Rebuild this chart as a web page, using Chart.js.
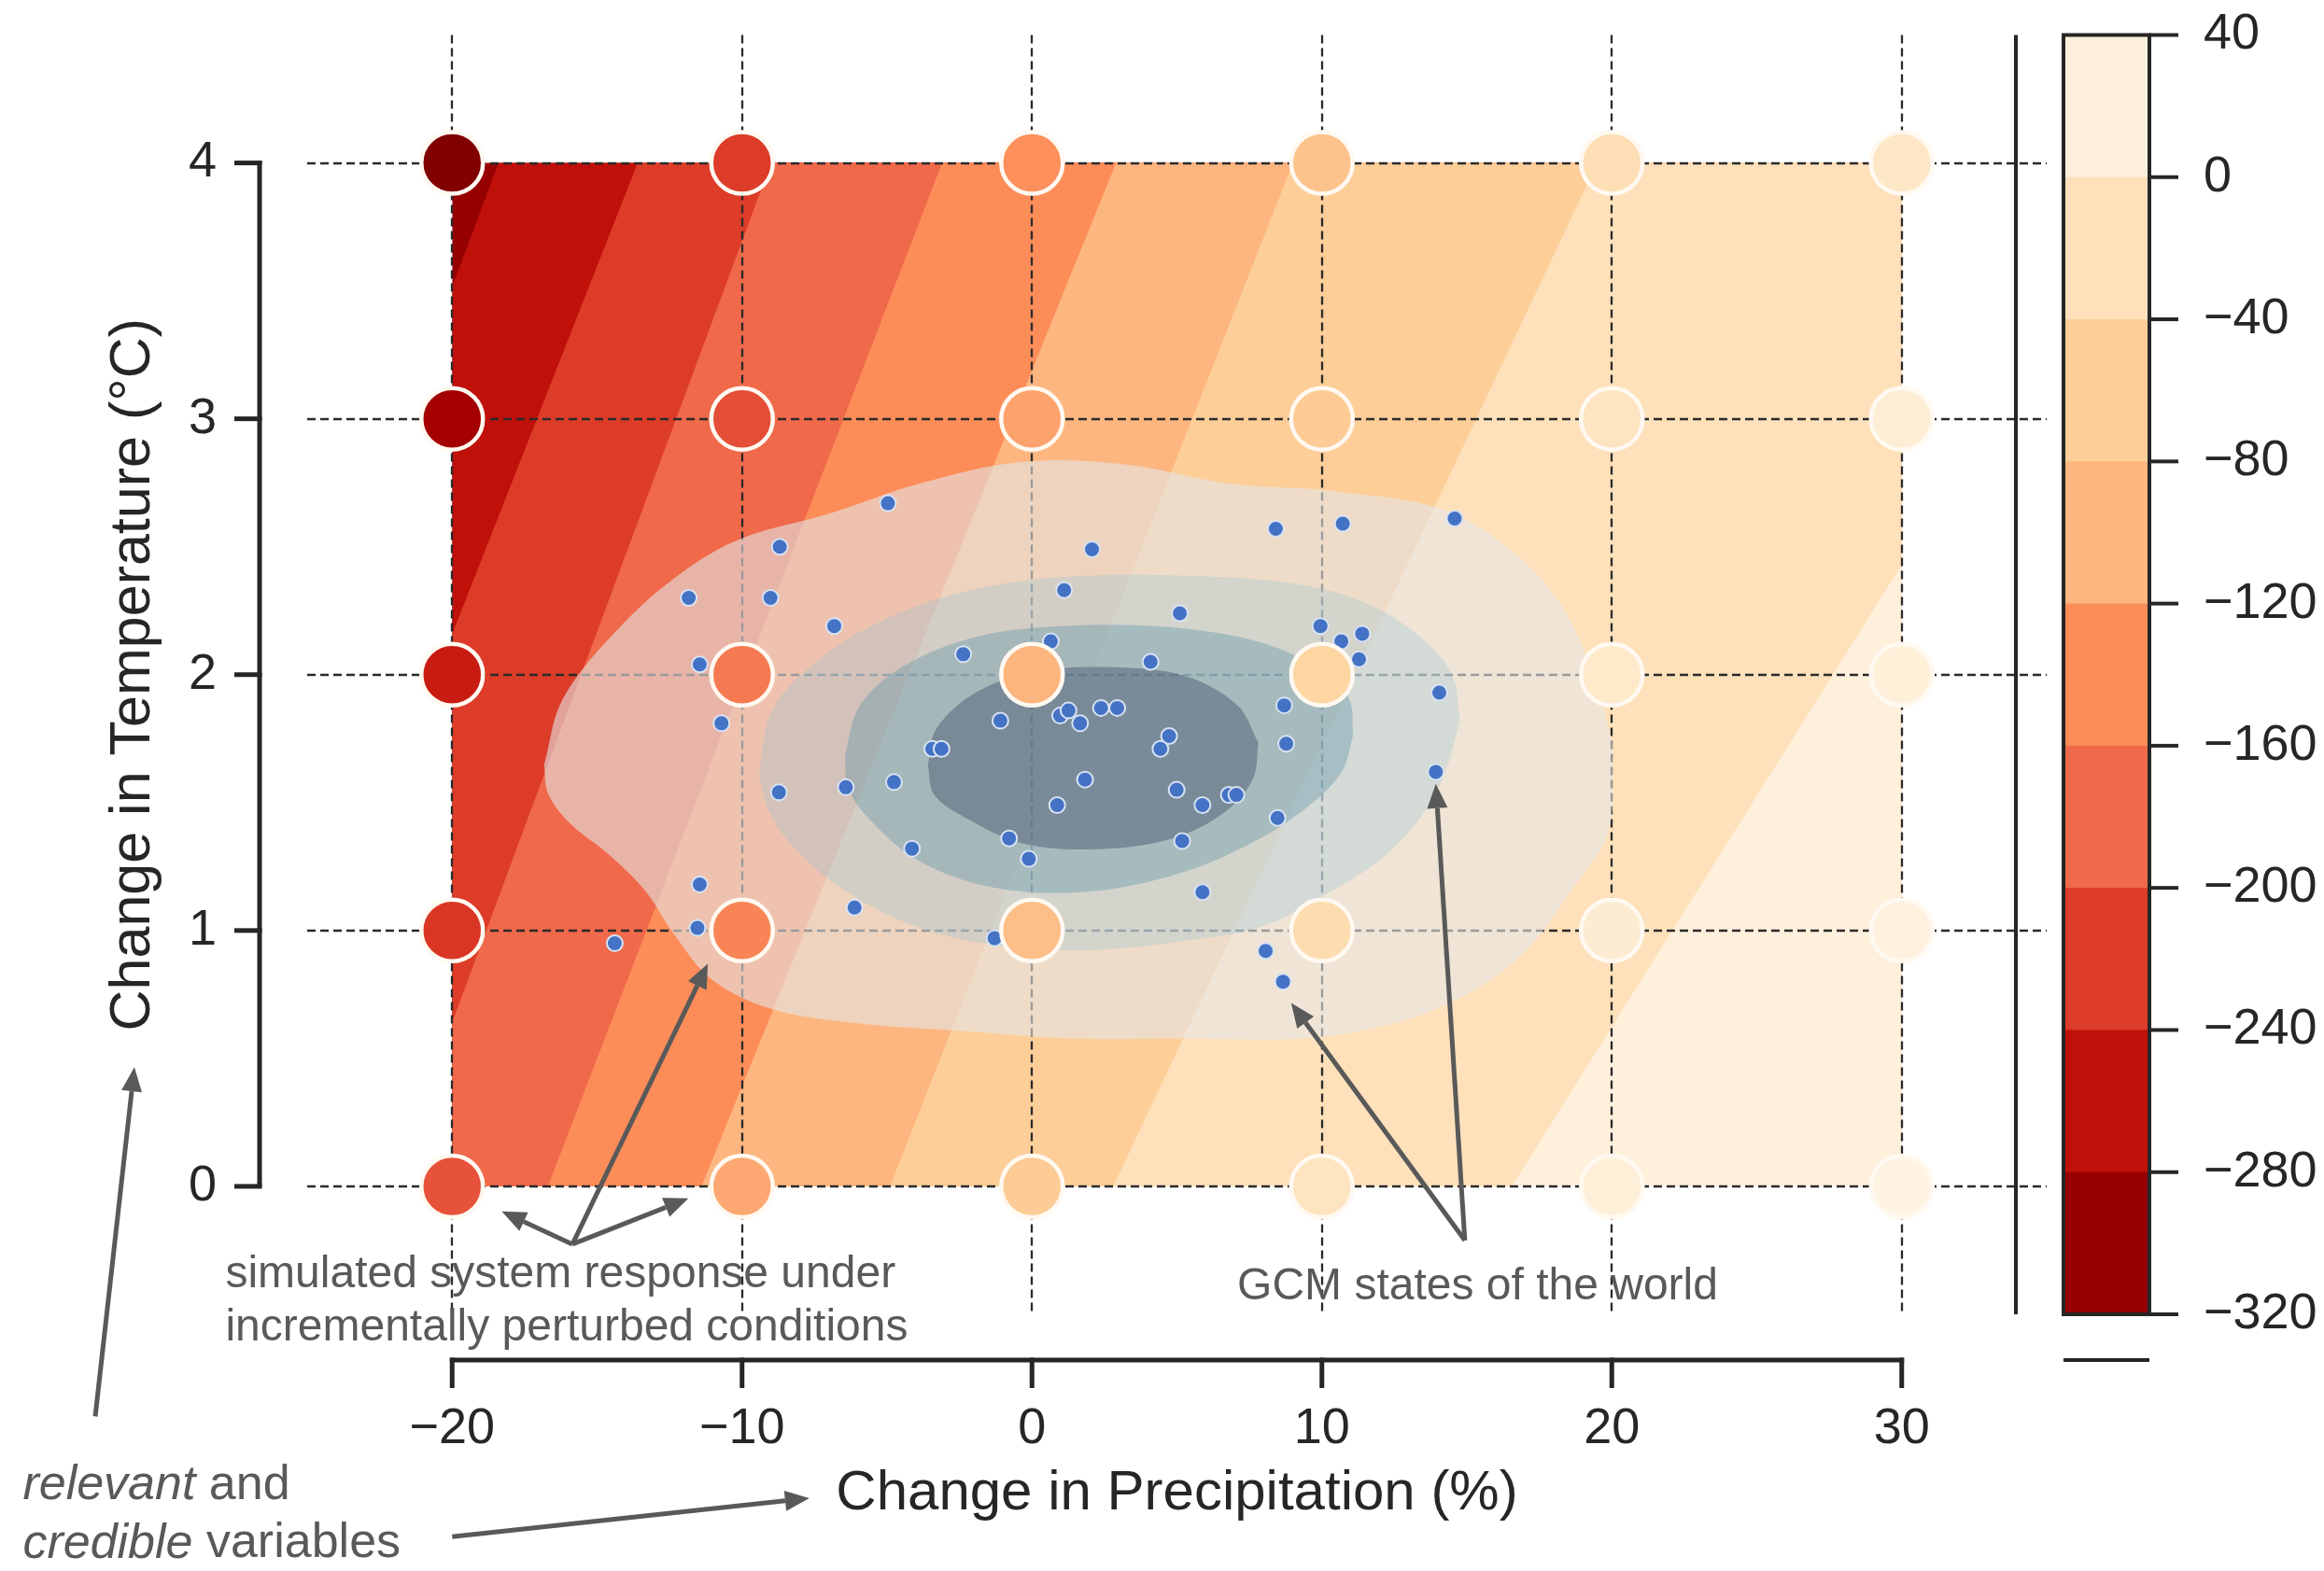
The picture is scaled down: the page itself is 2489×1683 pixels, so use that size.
<!DOCTYPE html>
<html>
<head>
<meta charset="utf-8">
<script src="https://cdn.jsdelivr.net/npm/chart.js@4.4.1/dist/chart.umd.min.js"></script>
<style>
html,body{margin:0;padding:0;background:#ffffff;}
#wrap{width:2489px;height:1683px;position:relative;}
</style>
</head>
<body>
<div id="wrap"><canvas id="c"></canvas></div>
<script>
// ---------------- data ----------------
const precipTicks = [-20, -10, 0, 10, 20, 30];
const tempTicks = [0, 1, 2, 3, 4];
const colorbarTicks = [40, 0, -40, -80, -120, -160, -200, -240, -280, -320];

// filled-contour boundaries of the response surface (level, precip at T=0, precip at T=4)
const contourLevels = [-280, -240, -200, -160, -120, -80, -40, 0];
const boundaryAtT0 = [-31.6, -27.5, -22.1, -16.7, -11.4, -4.9, 2.8, 16.55];
const boundaryAtT4 = [-18.4, -13.6, -9.0, -3.1, 2.9, 9.0, 19.5, 38.7];

// simulated system response (stress test grid)
const responseX = [-20, -10, 0, 10, 20, 30];
const responseY = [0, 1, 2, 3, 4];
const responseImpact = [
  [-200, -114, -66, -14, 15, 30],
  [-225, -149, -90, -32, 8, 22],
  [-249, -161, -101, -46, -3, 18],
  [-287, -205, -119, -66, -14, 11],
  [-318, -220, -138, -80, -25, -7]
];

// GCM states of the world
const gcmPrecip = [-4.97, -8.70, -11.84, -9.02, -6.82, -11.46, -10.71, -2.37, -3.44, -3.12, -8.73, -6.42, -4.76, -4.14,
  -11.46, -6.12, -11.54, -14.39, 2.07, 8.41, 10.72, 14.58, 1.11, 5.10, 9.95, 10.67, 11.39, 11.28, 0.65, 4.09, 14.05,
  -1.09, 0.97, 1.26, 1.66, 2.38, 2.94, 8.70, 4.73, 4.43, 8.77, 13.93, 1.83, 4.99, 6.79, 7.05, 5.88, 0.87, 8.47,
  -0.79, -0.11, 5.18, 5.88, -1.29, 8.06, 8.66];
const gcmTemp = [2.67, 2.50, 2.30, 2.30, 2.19, 2.04, 1.81, 2.08, 1.71, 1.71, 1.54, 1.56, 1.58, 1.32,
  1.18, 1.09, 1.01, 0.95, 2.49, 2.57, 2.59, 2.61, 2.33, 2.24, 2.19, 2.13, 2.16, 2.06, 2.13, 2.05, 1.93,
  1.82, 1.84, 1.86, 1.81, 1.87, 1.87, 1.88, 1.76, 1.71, 1.73, 1.62, 1.59, 1.55, 1.53, 1.53, 1.49, 1.49, 1.44,
  1.36, 1.28, 1.35, 1.15, 0.97, 0.92, 0.80];

// KDE density contours of the GCM states (upper / lower outlines, left to right)
const kde1Upper = [[-16.83,1.647],[-16.17,1.908],[-14.12,2.197],[-12.08,2.399],[-10.03,2.532],[-6.96,2.63],[-3.9,2.746],[-0.32,2.832],[3.26,2.821],[6.84,2.746],[10.42,2.717],[14.51,2.63],[17.58,2.37],[19.11,2.08],[20.03,1.734]];
const kde1Lower = [[-16.83,1.647],[-16.68,1.532],[-15.91,1.416],[-14.63,1.3],[-13.35,1.156],[-12.33,0.983],[-11.05,0.809],[-9.0,0.694],[-5.94,0.636],[-2.36,0.607],[1.22,0.578],[5.31,0.578],[9.4,0.578],[12.46,0.636],[15.02,0.751],[17.07,0.925],[18.6,1.156],[19.88,1.387],[20.03,1.734]];
const kde2Upper = [[-9.42,1.607],[-9.01,1.85],[-7.73,2.023],[-5.43,2.197],[-2.36,2.324],[1.22,2.382],[5.31,2.387],[8.89,2.358],[11.44,2.283],[13.49,2.139],[14.51,1.994],[14.76,1.821]];
const kde2Lower = [[-9.42,1.607],[-9.11,1.474],[-8.24,1.329],[-6.45,1.156],[-3.9,1.012],[-0.83,0.936],[2.24,0.925],[5.31,0.96],[7.97,1.017],[9.91,1.127],[11.95,1.272],[13.38,1.439],[14.25,1.618],[14.76,1.821]];
const kde3Upper = [[-6.45,1.688],[-5.94,1.879],[-4.41,2.035],[-1.85,2.15],[1.22,2.191],[4.8,2.185],[7.86,2.127],[9.91,2.023],[10.93,1.908],[11.08,1.763]];
const kde3Lower = [[-6.45,1.688],[-6.35,1.561],[-5.69,1.445],[-3.9,1.272],[-1.34,1.168],[1.73,1.15],[4.8,1.214],[7.35,1.329],[9.4,1.474],[10.67,1.618],[11.08,1.763]];
const kde4Upper = [[-3.59,1.647],[-3.28,1.792],[-1.85,1.936],[0.19,2.012],[2.75,2.029],[5.31,1.994],[7.1,1.879],[7.81,1.734]];
const kde4Lower = [[-3.59,1.647],[-3.38,1.532],[-2.36,1.445],[-0.32,1.341],[2.24,1.318],[4.8,1.358],[6.58,1.457],[7.61,1.59],[7.81,1.734]];
const kdeFills = ['rgba(228,230,232,0.6)', 'rgba(150,195,215,0.30)', 'rgba(100,150,170,0.40)', 'rgba(60,75,100,0.42)'];

// annotations (data coordinates)
const responseNote = ['simulated system response under', 'incrementally perturbed conditions'];
const responseNoteAt = [[-27.82, -0.346], [-27.82, -0.553]];
const responseArrowFrom = [-15.85, -0.226];
const responseArrowTo = [[-18.29, -0.098], [-11.85, -0.047], [-11.18, 0.87]];
const gcmNote = 'GCM states of the world';
const gcmNoteAt = [7.08, -0.393];
const gcmArrowFrom = [14.93, -0.211];
const gcmArrowTo = [[8.94, 0.717], [13.93, 1.573]];
const variablesNoteAt = [[-34.81, -1.169], [-34.81, -1.398]];
const variablesArrows = [[[-32.31, -0.899], [-30.96, 0.466]], [[-20.0, -1.369], [-7.68, -1.219]]];

// ---------------- helpers ----------------
const FONT = "'Liberation Sans', Arial, Helvetica, sans-serif";
const INK = '#262626';
const NOTE = '#595959';
const CB_MAX = colorbarTicks[0], CB_MIN = colorbarTicks[colorbarTicks.length - 1];
const ORRD = ['#fff7ec','#fee8c8','#fdd49e','#fdbb84','#fc8d59','#ef6548','#d7301f','#b30000','#7f0000'];
function hex2rgb(h){ return [parseInt(h.slice(1,3),16), parseInt(h.slice(3,5),16), parseInt(h.slice(5,7),16)]; }
function cmap(v){
  let s = (CB_MAX - v) / (CB_MAX - CB_MIN);
  s = Math.max(0, Math.min(1, s));
  const p = s * (ORRD.length - 1);
  const i = Math.min(Math.floor(p), ORRD.length - 2);
  const f = p - i;
  const a = hex2rgb(ORRD[i]), b = hex2rgb(ORRD[i + 1]);
  return 'rgb(' + a.map((c, k) => Math.round(c + (b[k] - c) * f)).join(',') + ')';
}
const fmt = v => (v < 0 ? '\u2212' + Math.abs(v) : String(v));
const toXY = arr => arr.map(p => ({x: p[0], y: p[1]}));
const fixBox = (w, h) => s => {
  if (w !== null) s.width = w;
  if (h !== null) s.height = h;
  s.paddingTop = 0; s.paddingBottom = 0; s.paddingLeft = 0; s.paddingRight = 0;
};

// ---------------- datasets ----------------
const datasets = [];
const RX0 = precipTicks[0], RX1 = precipTicks[precipTicks.length - 1];
const RY0 = tempTicks[0], RY1 = tempTicks[tempTicks.length - 1];
const hidden = {type: 'line', borderWidth: 0, borderColor: 'transparent', pointRadius: 0, tension: 0};

// base band (below lowest level)
datasets.push(Object.assign({}, hidden, {
  data: [{x: RX0, y: RY1}, {x: RX1, y: RY1}],
  backgroundColor: cmap((CB_MIN + contourLevels[0]) / 2), fill: 'origin', order: 1000
}));
contourLevels.forEach((L, i) => {
  const x0 = boundaryAtT0[i], x4 = boundaryAtT4[i];
  const yAt = x => Math.max(RY0, Math.min(RY1, RY0 + (RY1 - RY0) * (x - x0) / (x4 - x0)));
  const xs = [RX0, x0, x4, RX1].filter(x => x >= RX0 && x <= RX1).sort((a, b) => a - b);
  datasets.push(Object.assign({}, hidden, {
    data: xs.map(x => ({x: x, y: yAt(x)})),
    backgroundColor: cmap(L + 20), fill: 'origin', order: 999 - i,
    isLastBand: i === contourLevels.length - 1
  }));
});

// KDE contours
[[kde1Upper, kde1Lower], [kde2Upper, kde2Lower], [kde3Upper, kde3Lower], [kde4Upper, kde4Lower]].forEach((pair, k) => {
  const upperIndex = datasets.length;
  datasets.push(Object.assign({}, hidden, {
    data: toXY(pair[0]), fill: upperIndex + 1, backgroundColor: kdeFills[k], tension: 0.35, order: 500 - 2 * k
  }));
  datasets.push(Object.assign({}, hidden, {
    data: toXY(pair[1]), fill: false, tension: 0.35, order: 499 - 2 * k
  }));
});

// GCM points
datasets.push({
  type: 'scatter',
  data: gcmPrecip.map((x, i) => ({x: x, y: gcmTemp[i]})),
  pointRadius: 8.5, backgroundColor: '#4472C4', borderColor: '#D8E2F3', borderWidth: 2,
  order: 20, clip: false
});

// stress-test response circles
const respPts = [], respCols = [];
responseY.forEach((t, r) => responseX.forEach((p, c) => {
  respPts.push({x: p, y: t});
  respCols.push(cmap(responseImpact[r][c]));
}));
datasets.push({
  type: 'scatter', data: respPts, pointRadius: 33, backgroundColor: respCols,
  borderColor: '#FFF9F1', borderWidth: 4.5, order: 10, clip: false
});

// ---------------- decorations plugin ----------------
function drawArrow(ctx, x1, y1, x2, y2){
  const ang = Math.atan2(y2 - y1, x2 - x1);
  const hl = 26, hw = 22;
  const bx = x2 - hl * Math.cos(ang), by = y2 - hl * Math.sin(ang);
  ctx.strokeStyle = NOTE; ctx.fillStyle = NOTE; ctx.lineWidth = 5; ctx.lineCap = 'butt';
  ctx.beginPath(); ctx.moveTo(x1, y1); ctx.lineTo(bx, by); ctx.stroke();
  ctx.beginPath(); ctx.moveTo(x2, y2);
  ctx.lineTo(bx + hw / 2 * Math.sin(ang), by - hw / 2 * Math.cos(ang));
  ctx.lineTo(bx - hw / 2 * Math.sin(ang), by + hw / 2 * Math.cos(ang));
  ctx.closePath(); ctx.fill();
}

const decor = {
  id: 'decor',
  afterDatasetDraw(chart, args){
    const ds = chart.data.datasets[args.index];
    if (!ds.isLastBand) return;
    const {ctx, chartArea: a, scales: {x, y}} = chart;
    ctx.save();
    ctx.strokeStyle = '#2a2a2a'; ctx.lineWidth = 2.3; ctx.setLineDash([9, 5]);
    precipTicks.forEach(v => {
      const p = Math.round(x.getPixelForValue(v));
      ctx.beginPath(); ctx.moveTo(p, a.top); ctx.lineTo(p, a.bottom); ctx.stroke();
    });
    tempTicks.forEach(v => {
      const p = Math.round(y.getPixelForValue(v));
      ctx.beginPath(); ctx.moveTo(a.left, p); ctx.lineTo(a.right, p); ctx.stroke();
    });
    ctx.restore();
  },
  afterDraw(chart){
    const {ctx, chartArea: a, scales: {x, y, cb}} = chart;
    const P = pt => [x.getPixelForValue(pt[0]), y.getPixelForValue(pt[1])];
    ctx.save();
    // offset spines
    ctx.strokeStyle = INK; ctx.lineWidth = 5; ctx.lineCap = 'butt'; ctx.setLineDash([]);
    const sx = a.left - 51;
    ctx.beginPath();
    ctx.moveTo(sx, y.getPixelForValue(RY0)); ctx.lineTo(sx, y.getPixelForValue(RY1) - 2.5); ctx.stroke();
    tempTicks.forEach(v => { const p = y.getPixelForValue(v); ctx.beginPath(); ctx.moveTo(sx - 27, p); ctx.lineTo(sx + 2.5, p); ctx.stroke(); });
    const sy = a.bottom + 49;
    ctx.beginPath(); ctx.moveTo(x.getPixelForValue(RX0) - 2.5, sy); ctx.lineTo(x.getPixelForValue(RX1) + 2.5, sy); ctx.stroke();
    precipTicks.forEach(v => { const p = x.getPixelForValue(v); ctx.beginPath(); ctx.moveTo(p, sy - 2.5); ctx.lineTo(p, sy + 30); ctx.stroke(); });

    // colorbar
    const cx0 = a.right + 18, cx1 = a.right + 110;
    for (let i = 0; i < colorbarTicks.length - 1; i++) {
      const v0 = colorbarTicks[i], v1 = colorbarTicks[i + 1];
      const p0 = cb.getPixelForValue(v0), p1 = cb.getPixelForValue(v1);
      ctx.fillStyle = cmap((v0 + v1) / 2);
      ctx.fillRect(cx0, p0, cx1 - cx0, p1 - p0 + 0.6);
    }
    ctx.lineWidth = 4; ctx.strokeStyle = INK;
    const ct = cb.getPixelForValue(CB_MAX), cbt = cb.getPixelForValue(CB_MIN);
    ctx.strokeRect(cx0, ct, cx1 - cx0, cbt - ct);
    colorbarTicks.forEach(v => { const p = cb.getPixelForValue(v); ctx.beginPath(); ctx.moveTo(cx1, p); ctx.lineTo(cx1 + 31, p); ctx.stroke(); });
    // colorbar axes spines
    ctx.beginPath(); ctx.moveTo(a.right - 33, ct); ctx.lineTo(a.right - 33, cbt); ctx.stroke();
    ctx.beginPath(); ctx.moveTo(cx0, sy); ctx.lineTo(cx1, sy); ctx.stroke();

    // annotations
    ctx.textBaseline = 'middle'; ctx.textAlign = 'left'; ctx.fillStyle = NOTE;
    ctx.font = '48px ' + FONT;
    responseNote.forEach((t, i) => { const p = P(responseNoteAt[i]); ctx.fillText(t, p[0], p[1]); });
    const gp = P(gcmNoteAt); ctx.fillText(gcmNote, gp[0], gp[1]);
    [[['relevant', true], [' and', false]], [['credible', true], [' variables', false]]].forEach((parts, i) => {
      const p = P(variablesNoteAt[i]); let cx = p[0];
      parts.forEach(([txt, it]) => {
        ctx.font = (it ? 'italic ' : '') + '52px ' + FONT;
        ctx.fillText(txt, cx, p[1]);
        cx += ctx.measureText(txt).width;
      });
    });
    const rf = P(responseArrowFrom);
    responseArrowTo.forEach(t => { const q = P(t); drawArrow(ctx, rf[0], rf[1], q[0], q[1]); });
    const gf = P(gcmArrowFrom);
    gcmArrowTo.forEach(t => { const q = P(t); drawArrow(ctx, gf[0], gf[1], q[0], q[1]); });
    variablesArrows.forEach(([f, t]) => { const a1 = P(f), b1 = P(t); drawArrow(ctx, a1[0], a1[1], b1[0], b1[1]); });
    ctx.restore();
  }
};

// ---------------- chart ----------------
Chart.defaults.font.family = FONT;
Chart.defaults.color = INK;

new Chart(document.getElementById('c'), {
  type: 'scatter',
  data: {datasets: datasets},
  options: {
    responsive: true, maintainAspectRatio: false, devicePixelRatio: 1,
    animation: false, events: [],
    layout: {padding: {left: 0, right: 0, top: 35, bottom: 0}},
    plugins: {legend: {display: false}, tooltip: {enabled: false}, filler: {propagate: false}},
    scales: {
      x: {
        type: 'linear', position: 'bottom', min: -25, max: 35,
        afterFit: fixBox(null, 275),
        afterBuildTicks: s => { s.ticks = precipTicks.map(v => ({value: v})); },
        grid: {display: false}, border: {display: false},
        ticks: {padding: 83, font: {size: 54}, color: INK, autoSkip: false, maxRotation: 0, callback: v => fmt(v)},
        title: {display: true, text: 'Change in Precipitation (%)', font: {size: 60}, color: INK, padding: {top: 0, bottom: 47}}
      },
      y: {
        type: 'linear', position: 'left', min: -0.5, max: 4.5,
        afterFit: fixBox(329, null),
        afterBuildTicks: s => { s.ticks = tempTicks.map(v => ({value: v})); },
        grid: {display: false}, border: {display: false},
        ticks: {padding: 89, font: {size: 54}, color: INK, autoSkip: false, callback: v => fmt(v)},
        title: {display: true, text: 'Change in Temperature (°C)', font: {size: 61}, color: INK, padding: {top: 107, bottom: 0}}
      },
      cb: {
        type: 'linear', position: 'right', min: CB_MIN, max: CB_MAX,
        afterFit: fixBox(297, null),
        afterBuildTicks: s => { s.ticks = colorbarTicks.map(v => ({value: v})); },
        grid: {display: false}, border: {display: false},
        ticks: {padding: 160, font: {size: 54}, color: INK, autoSkip: false, callback: v => fmt(v)}
      }
    }
  },
  plugins: [decor]
});
</script>
</body>
</html>
